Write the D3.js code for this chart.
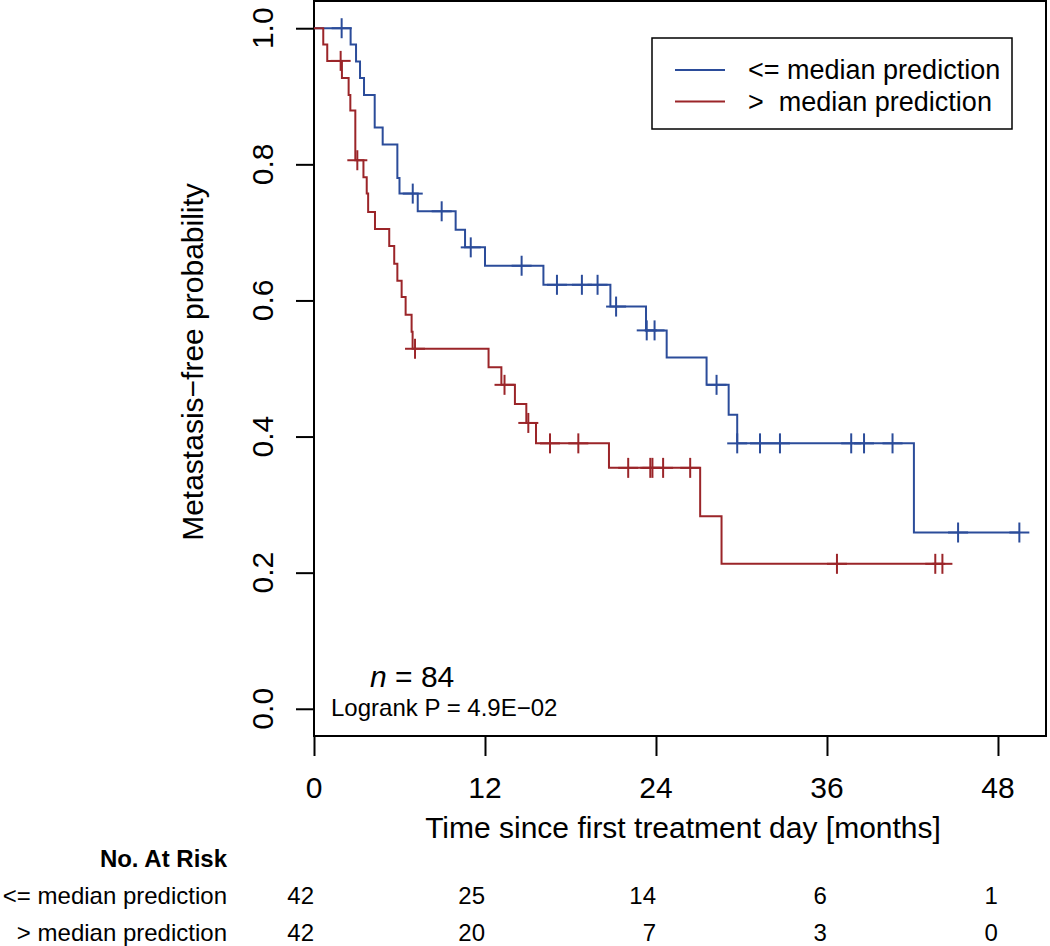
<!DOCTYPE html>
<html>
<head>
<meta charset="utf-8">
<script src="https://cdn.jsdelivr.net/npm/d3@7"></script>
<style>
  html, body { margin: 0; padding: 0; background: #fff; }
  svg { display: block; }
  text { font-family: "Liberation Sans", Arial, Helvetica, sans-serif; fill: #000; }
</style>
</head>
<body>
<svg id="chart" width="1050" height="946"></svg>
<script>
// ---------- data ----------
const groupNames = ["<= median prediction", ">  median prediction"];
const riskLabels = ["<= median prediction", "> median prediction"];
const riskTimes = [0, 12, 24, 36, 48];
const riskLow = [42, 25, 14, 6, 1];
const riskHigh = [42, 20, 7, 3, 0];
const xTicks = [0, 12, 24, 36, 48];
const yTicks = [0.0, 0.2, 0.4, 0.6, 0.8, 1.0];

// "<= median" group: event times (months) and survival after each step
const lowTimes = [0, 2.57, 2.95, 3.23, 3.51, 4.26, 4.82, 5.85, 6.0, 7.28, 9.94, 10.6, 12.0, 16.1, 20.8, 23.3, 24.75, 27.55, 29.1, 29.7, 42.1];
const lowSurv  = [1, 0.976, 0.951, 0.927, 0.902, 0.854, 0.829, 0.780, 0.757, 0.731, 0.704, 0.678, 0.651, 0.623, 0.591, 0.556, 0.516, 0.476, 0.432, 0.390, 0.259];
const lowCensor = [1.94, 6.93, 8.96, 11.0, 14.57, 17.05, 18.8, 19.9, 21.2, 23.35, 23.9, 28.25, 29.7, 31.3, 32.7, 37.7, 38.6, 40.6, 45.2, 49.5];

// "> median" group
const highTimes = [0, 0.65, 0.93, 1.96, 2.43, 2.55, 2.9, 3.47, 3.7, 3.8, 4.28, 5.28, 5.63, 5.85, 6.15, 6.43, 6.85, 6.92, 12.25, 13.15, 14.1, 14.9, 15.58, 20.7, 27.1, 28.6];
const highSurv  = [1, 0.976, 0.952, 0.927, 0.902, 0.879, 0.806, 0.781, 0.757, 0.730, 0.705, 0.680, 0.654, 0.629, 0.605, 0.579, 0.554, 0.529, 0.502, 0.476, 0.448, 0.420, 0.390, 0.354, 0.283, 0.213];
const highCensor = [1.87, 3.04, 7.09, 13.37, 15.04, 16.56, 18.55, 22.05, 23.6, 23.75, 24.5, 26.4, 36.7, 43.6, 44.1];

const colors = ["#2b4c9a", "#9b2529"];

// ---------- layout ----------
const svg = d3.select("#chart");
const plot = { left: 314, right: 1046, top: 1, bottom: 736 };
const x = d3.scaleLinear().domain([0, 51.37]).range([plot.left, plot.right]);
const y = d3.scaleLinear().domain([-0.04, 1.04]).range([plot.bottom, plot.top]);

// box
svg.append("rect")
  .attr("x", plot.left).attr("y", plot.top)
  .attr("width", plot.right - plot.left).attr("height", plot.bottom - plot.top)
  .attr("fill", "none").attr("stroke", "#000").attr("stroke-width", 2);

// y axis
const yAxis = svg.append("g").attr("transform", `translate(${plot.left},0)`)
  .call(d3.axisLeft(y).tickValues(yTicks).tickSize(18).tickSizeOuter(0).tickFormat(""));
yAxis.select(".domain").attr("d", `M0,${y(0)}V${y(1)}`);
yAxis.selectAll("line, path").attr("stroke", "#000").attr("stroke-width", 2);
svg.append("g").selectAll("text").data(yTicks).join("text")
  .attr("transform", d => `translate(262,${y(d)}) rotate(-90)`)
  .attr("text-anchor", "middle").attr("dominant-baseline", "central")
  .attr("font-size", 30)
  .text(d => d3.format(".1f")(d));

// x axis
const xAxis = svg.append("g").attr("transform", `translate(0,${plot.bottom})`)
  .call(d3.axisBottom(x).tickValues(xTicks).tickSize(20).tickSizeOuter(0).tickFormat(""));
xAxis.select(".domain").attr("d", `M${x(0)},0H${x(48)}`);
xAxis.selectAll("line, path").attr("stroke", "#000").attr("stroke-width", 2);
svg.append("g").selectAll("text").data(xTicks).join("text")
  .attr("x", d => x(d)).attr("y", 787)
  .attr("text-anchor", "middle").attr("dominant-baseline", "central")
  .attr("font-size", 30)
  .text(d => d);

// axis titles
svg.append("text").attr("x", 683).attr("y", 827)
  .attr("text-anchor", "middle").attr("dominant-baseline", "central")
  .attr("font-size", 30).text("Time since first treatment day [months]");
svg.append("text").attr("transform", "translate(192,362) rotate(-90)")
  .attr("text-anchor", "middle").attr("dominant-baseline", "central")
  .attr("font-size", 30).text("Metastasis\u2212free probability");

// curves
function stepAt(times, surv, t) {
  const i = d3.bisectRight(times, t) - 1;
  return surv[Math.max(0, i)];
}
const groups = [
  { times: lowTimes, surv: lowSurv, censor: lowCensor, color: colors[0] },
  { times: highTimes, surv: highSurv, censor: highCensor, color: colors[1] }
];
const line = d3.line().x(d => x(d[0])).y(d => y(d[1])).curve(d3.curveStepAfter);
groups.forEach(g => {
  const pts = g.times.map((t, i) => [t, g.surv[i]]);
  const tEnd = d3.max(g.censor.concat(g.times));
  pts.push([tEnd, stepAt(g.times, g.surv, tEnd)]);
  svg.append("path").datum(pts)
    .attr("d", line).attr("fill", "none")
    .attr("stroke", g.color).attr("stroke-width", 2);
  const cg = svg.append("g").attr("stroke", g.color).attr("stroke-width", 2);
  g.censor.forEach(t => {
    const cx = x(t), cy = y(stepAt(g.times, g.surv, t));
    cg.append("line").attr("x1", cx).attr("x2", cx).attr("y1", cy - 10).attr("y2", cy + 10);
    cg.append("line").attr("x1", cx - 10).attr("x2", cx + 10).attr("y1", cy).attr("y2", cy);
  });
});

// legend
const lg = svg.append("g");
lg.append("rect").attr("x", 652).attr("y", 38).attr("width", 360).attr("height", 91)
  .attr("fill", "#fff").attr("stroke", "#000").attr("stroke-width", 1.5);
groupNames.forEach((nm, i) => {
  const ly = 70 + i * 31.5;
  lg.append("line").attr("x1", 675).attr("x2", 725).attr("y1", ly).attr("y2", ly)
    .attr("stroke", colors[i]).attr("stroke-width", 2);
  lg.append("text").attr("x", 748).attr("y", ly).attr("dominant-baseline", "central")
    .attr("font-size", 27).style("white-space", "pre").text(nm);
});

// annotations
const nt = svg.append("text").attr("x", 370).attr("y", 676)
  .attr("dominant-baseline", "central").attr("font-size", 30);
nt.append("tspan").attr("font-style", "italic").text("n");
nt.append("tspan").text(" = 84");
svg.append("text").attr("x", 331).attr("y", 707).attr("dominant-baseline", "central")
  .attr("font-size", 24).text("Logrank P = 4.9E\u221202");

// risk table
svg.append("text").attr("x", 227).attr("y", 858).attr("text-anchor", "end")
  .attr("dominant-baseline", "central").attr("font-size", 24).attr("font-weight", "bold")
  .text("No. At Risk");
const riskRows = [riskLow, riskHigh];
riskRows.forEach((row, r) => {
  const ry = 895 + r * 37;
  svg.append("text").attr("x", 227).attr("y", ry).attr("text-anchor", "end")
    .attr("dominant-baseline", "central").attr("font-size", 24).text(riskLabels[r]);
  svg.append("g").selectAll("text").data(row).join("text")
    .attr("x", (d, i) => x(riskTimes[i])).attr("y", ry)
    .attr("text-anchor", "end").attr("dominant-baseline", "central")
    .attr("font-size", 24).text(d => d);
});
</script>
</body>
</html>
